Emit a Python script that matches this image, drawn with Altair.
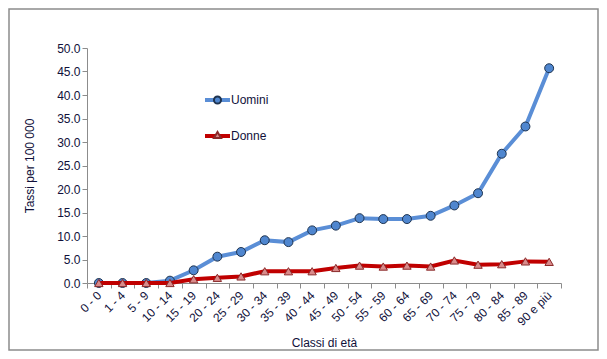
import altair as alt
import pandas as pd

classi = ["0 - 0", "1 - 4", "5 - 9", "10 - 14", "15 - 19", "20 - 24", "25 - 29",
          "30 - 34", "35 - 39", "40 - 44", "45 - 49", "50 - 54", "55 - 59",
          "60 - 64", "65 - 69", "70 - 74", "75 - 79", "80 - 84", "85 - 89", "90 e più"]
uomini = [0.0, 0.0, 0.0, 0.5, 2.7, 5.6, 6.6, 9.1, 8.7, 11.2, 12.2, 13.8, 13.6, 13.6,
          14.3, 16.5, 19.1, 27.5, 33.3, 45.7]
donne = [0.0, 0.0, 0.0, 0.0, 0.8, 1.1, 1.4, 2.5, 2.5, 2.5, 3.2, 3.7, 3.5, 3.7,
         3.5, 4.8, 3.9, 4.0, 4.6, 4.5]

n = len(classi)
df = pd.DataFrame({
    "classe": classi * 2,
    "valore": uomini + donne,
    "serie": ["Uomini"] * n + ["Donne"] * n,
})

TXT = "#10103a"
W, H = 474, 235

xenc = alt.X("classe:N", sort=classi, title="Classi di età",
             scale=alt.Scale(paddingInner=0, paddingOuter=0),
             axis=alt.Axis(labelAngle=-45, labelAlign="right", labelBaseline="middle",
                           tickBand="extent", tickSize=5, labelPadding=5,
                           titlePadding=10, grid=False))
yenc = alt.Y("valore:Q", title="Tassi per 100 000",
             scale=alt.Scale(domain=[0, 50], nice=False),
             axis=alt.Axis(values=[0, 5, 10, 15, 20, 25, 30, 35, 40, 45, 50],
                           format=".1f", tickSize=5, grid=False, titlePadding=20))

base = alt.Chart(df)

u = base.transform_filter(alt.datum.serie == "Uomini")
d = base.transform_filter(alt.datum.serie == "Donne")

u_line = u.mark_line(color="#5a8ed6", strokeWidth=4).encode(x=xenc, y=yenc)
u_pts = u.mark_point(shape="circle", filled=True, fill="#4f86cf", stroke="#1f3450",
                     strokeWidth=1, size=80, opacity=1).encode(x=xenc, y=yenc)
d_line = d.mark_line(color="#c00000", strokeWidth=4).encode(x=xenc, y=yenc)
d_pts = d.mark_point(shape="triangle-up", filled=True, fill="#d98b8b", stroke="#8a2a2a",
                     strokeWidth=1, size=70, opacity=1).encode(x=xenc, y=yenc)

# legend (decorative, placed inside plot area)
leg_u_line = alt.Chart().mark_rule(color="#5a8ed6", strokeWidth=4).encode(
    x=alt.value(118), x2=alt.value(143), y=alt.value(52))
leg_u_pt = alt.Chart().mark_point(shape="circle", filled=True, fill="#4f86cf",
                                  stroke="#1f3450", size=50, opacity=1).encode(
    x=alt.value(130.5), y=alt.value(52))
leg_u_txt = alt.Chart().mark_text(text="Uomini", align="left", baseline="middle",
                                  font="Liberation Sans", fontSize=12, color=TXT).encode(
    x=alt.value(144), y=alt.value(52))
leg_d_line = alt.Chart().mark_rule(color="#c00000", strokeWidth=4).encode(
    x=alt.value(118), x2=alt.value(143), y=alt.value(88))
leg_d_pt = alt.Chart().mark_point(shape="triangle-up", filled=True, fill="#d98b8b",
                                  stroke="#8a2a2a", size=50, opacity=1).encode(
    x=alt.value(130.5), y=alt.value(87))
leg_d_txt = alt.Chart().mark_text(text="Donne", align="left", baseline="middle",
                                  font="Liberation Sans", fontSize=12, color=TXT).encode(
    x=alt.value(144), y=alt.value(88))

border = alt.Chart().mark_rect(filled=False, stroke="#8c8c8c", strokeWidth=1.5, clip=False).encode(
    x=alt.value(-78), x2=alt.value(511), y=alt.value(-39), y2=alt.value(302))

chart = alt.layer(
    border, u_line, u_pts, d_line, d_pts,
    leg_u_line, leg_u_pt, leg_u_txt, leg_d_line, leg_d_pt, leg_d_txt,
).properties(
    width=W, height=H,
    padding={"left": 79, "top": 40, "right": 38, "bottom": 68},
    autosize=alt.AutoSizeParams(type="none"),
    background="white",
).configure_view(stroke=None).configure_axis(
    domainColor="#8c8c8c", tickColor="#8c8c8c", labelColor=TXT, titleColor=TXT,
    labelFont="Liberation Sans", titleFont="Liberation Sans",
    labelFontSize=12, titleFontSize=12, titleFontWeight="normal",
)

chart.save("out.html", embed_options={"renderer": "svg", "actions": False})
